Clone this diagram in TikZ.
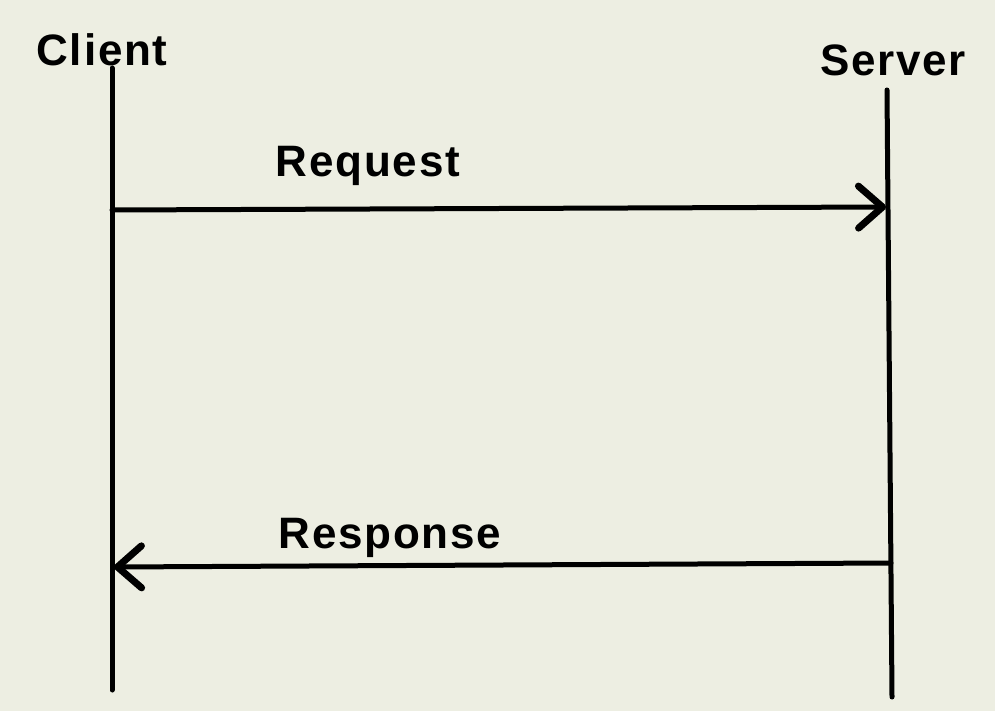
\documentclass[tikz,border=0pt]{standalone}
\usepackage{fontspec}
\setmainfont{Liberation Sans}
\usetikzlibrary{arrows.meta}
\definecolor{paper}{HTML}{EDEEE2}
\tikzset{
  hand/.style={font=\fontsize{44}{48}\bfseries\selectfont\addfontfeature{LetterSpace=4}},
  lifeline/.style={line width=5pt,line cap=round},
  message/.style={line width=5pt,line cap=round,
    -{Straight Barb[length=24pt,width=42pt,line width=7pt,line cap=round,line join=round]}}
}

\begin{document}
\begin{tikzpicture}[x=1pt,y=-1pt]

\fill[paper] (0,0) rectangle (995,711);
\useasboundingbox (0,0) rectangle (995,711);

\node[hand] (client) at (102,50) {Client};
\node[hand] (server) at (893,60) {Server};

\coordinate (clienttop) at (112,68);
\coordinate (clientbot) at (112,690);
\coordinate (servertop) at (887,90);
\coordinate (serverbot) at (892,697);
\draw[lifeline] (clienttop) -- (clientbot);
\draw[lifeline] (servertop) -- (serverbot);

\coordinate (reqfrom) at (112,210);
\coordinate (reqto) at (886,207);
\draw[message] (reqfrom) -- (reqto);
\node[hand] (request) at (368,166) {Request};

\coordinate (resfrom) at (891,563);
\coordinate (resto) at (114,567);
\draw[message] (resfrom) -- (resto);
\node[hand] (response) at (390,538) {Response};
\end{tikzpicture}
\end{document}
